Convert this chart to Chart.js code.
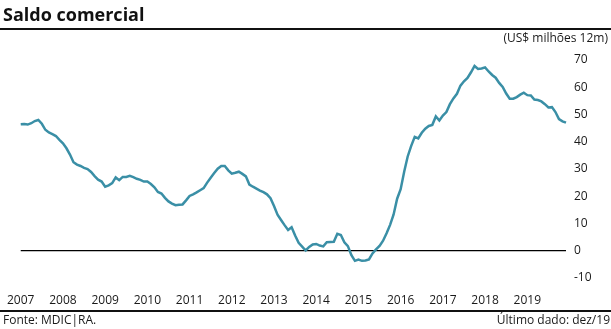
<!DOCTYPE html>
<html lang="pt-BR">
<head>
<meta charset="utf-8">
<title>Saldo comercial</title>
<script src="https://cdn.jsdelivr.net/npm/chart.js@4.4.1/dist/chart.umd.min.js"></script>
<style>
  html, body { margin: 0; padding: 0; background: #fff; }
  #wrap { position: relative; width: 611px; height: 329px; overflow: hidden; font-family: 'Open Sans', sans-serif; color: #1a1a1a; }
  #chart { position: absolute; left: 0; top: 0; }
  .txt { position: absolute; white-space: nowrap; line-height: 1; }
  #title { left: 3px; top: 5px; font-size: 18px; font-weight: bold; color: #111; }
  #unit { right: 3px; top: 32px; font-size: 12px; }
  #source { left: 3px; top: 314px; font-size: 12px; }
  #last { right: 1px; top: 314px; font-size: 12px; }
  .rule { position: absolute; left: 0; width: 611px; height: 2px; background: #111; }
</style>
</head>
<body>
<div id="wrap">
  <canvas id="chart" width="611" height="329"></canvas>
  <div class="txt" id="title">Saldo comercial</div>
  <div class="rule" style="top: 28px;"></div>
  <div class="txt" id="unit">(US$ milhões 12m)</div>
  <div class="rule" style="top: 310px;"></div>
  <div class="txt" id="source">Fonte: MDIC|RA.</div>
  <div class="txt" id="last">Último dado: dez/19</div>
</div>
<script>
// Trade balance, 12-month rolling sum (US$ bn), Jan/2007 - Dec/2019
const years = [2007, 2008, 2009, 2010, 2011, 2012, 2013, 2014, 2015, 2016, 2017, 2018, 2019];
const months = ['jan', 'fev', 'mar', 'abr', 'mai', 'jun', 'jul', 'ago', 'set', 'out', 'nov', 'dez'];
const saldo = [
    46.4, 46.5, 46.3, 46.8, 47.6, 48.0, 46.6, 44.4, 43.4, 42.8, 42.1, 40.7,   // 2007
    39.4, 37.6, 35.3, 32.5, 31.6, 31.1, 30.4, 30.0, 28.9, 27.4, 26.1, 25.4,   // 2008
    23.5, 24.0, 24.8, 26.9, 25.9, 27.1, 27.1, 27.5, 27.0, 26.4, 26.0, 25.4,   // 2009
    25.4, 24.5, 23.3, 21.6, 21.0, 19.4, 18.1, 17.3, 16.7, 16.9, 17.0, 18.5,   // 2010
    20.1, 20.7, 21.4, 22.2, 23.0, 25.0, 26.8, 28.5, 30.1, 31.1, 31.1, 29.5,   // 2011
    28.3, 28.6, 29.0, 28.2, 27.3, 24.3, 23.5, 22.8, 22.1, 21.5, 20.7, 19.3,   // 2012
    16.4, 13.2, 11.3, 9.4, 7.6, 8.6, 5.6, 2.9, 1.5, 0.1, 1.4, 2.3,            // 2013
    2.5, 1.9, 1.6, 3.1, 3.2, 3.3, 6.2, 5.8, 3.1, 1.7, -1.6, -3.7,             // 2014
    -3.2, -3.7, -3.6, -3.2, -1.0, 0.5, 1.8, 3.7, 6.4, 9.5, 13.3, 19.1,        // 2015
    22.6, 29.0, 34.6, 38.5, 41.8, 41.2, 43.3, 44.8, 45.8, 46.2, 49.3, 47.8,   // 2016
    49.6, 50.9, 53.8, 55.9, 57.6, 60.6, 62.2, 63.4, 65.5, 67.8, 66.7, 66.9,   // 2017
    67.3, 65.8, 64.5, 63.5, 61.6, 60.1, 57.7, 55.8, 55.8, 56.4, 57.3, 58.0,   // 2018
    57.1, 57.0, 55.5, 55.3, 54.8, 53.8, 52.6, 52.7, 50.9, 48.3, 47.5, 47.0    // 2019
];
const yTicks = [-10, 0, 10, 20, 30, 40, 50, 60, 70];

const labels = [];
years.forEach(y => months.forEach(m => labels.push(m + '/' + y)));

const lineColor = '#3a8fa6';
const textColor = '#1a1a1a';

const ctx = document.getElementById('chart').getContext('2d');
const saldoChart = new Chart(ctx, {
    type: 'line',
    data: {
        labels: labels,
        datasets: [{
            label: 'Saldo comercial',
            data: saldo,
            borderColor: lineColor,
            borderWidth: 2.5,
            pointRadius: 0,
            tension: 0,
            fill: false
        }]
    },
    options: {
        responsive: false,
        animation: false,
        layout: {
            padding: { left: 19, right: 5, top: 60, bottom: 21 }
        },
        scales: {
            x: {
                type: 'category',
                offset: false,
                grid: { display: false },
                border: { display: false },
                afterFit: scale => { scale.height = 30; },
                ticks: {
                    autoSkip: false,
                    maxRotation: 0,
                    padding: 7,
                    color: textColor,
                    font: { family: 'Open Sans', size: 12 },
                    callback: function(value, index) {
                        return index % 12 === 0 ? String(years[index / 12]) : '';
                    }
                }
            },
            y: {
                position: 'right',
                min: yTicks[0],
                max: yTicks[yTicks.length - 1],
                afterFit: scale => { scale.width = 40; },
                afterBuildTicks: scale => { scale.ticks = yTicks.map(v => ({ value: v })); },
                border: { display: false },
                grid: {
                    drawTicks: false,
                    // only the zero line is drawn
                    color: c => c.tick && c.tick.value === 0 ? '#000' : 'rgba(0,0,0,0)',
                    lineWidth: 1.2
                },
                ticks: {
                    padding: 8,
                    color: textColor,
                    font: { family: 'Open Sans', size: 12 }
                }
            }
        },
        plugins: {
            legend: { display: false },
            tooltip: { enabled: false }
        }
    }
});
</script>
</body>
</html>
